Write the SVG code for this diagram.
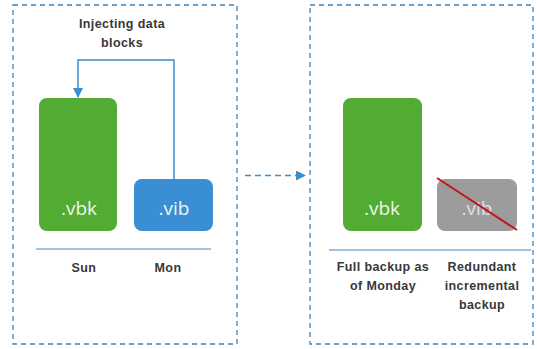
<svg xmlns="http://www.w3.org/2000/svg" width="537" height="349" viewBox="0 0 537 349">
<style>
.frame{fill:none;stroke:#3a84c0;stroke-width:1.3;stroke-dasharray:5,4}
.sep{stroke:#7fb0da;stroke-width:1.3}
.lbl{font-family:"Liberation Sans",Arial,sans-serif;font-size:12.5px;fill:#383838;text-anchor:middle;font-weight:bold;letter-spacing:0.4px}
.ext{font-family:"Open Sans","Liberation Sans",sans-serif;font-size:19px;fill:#eef6ea;text-anchor:middle}
.conn{fill:none;stroke:#3a8fd0;stroke-width:1.5}
</style>
<defs>
<marker id="ah" viewBox="0 0 10 10" refX="9" refY="5" markerWidth="10" markerHeight="10" markerUnits="userSpaceOnUse" orient="auto">
<path d="M0,0 L10,5 L0,10 z" fill="#3a8fd0"/>
</marker>
</defs>
<rect width="537" height="349" fill="#fff"/>
<g id="left-frame"><rect class="frame" x="13" y="5" width="224" height="339"/></g>
<g id="right-frame"><rect class="frame" x="310" y="5" width="223" height="339"/></g>
<g id="title"><text class="lbl" x="122" y="28">Injecting data</text><text class="lbl" x="122" y="47">blocks</text></g>
<g id="sun-vbk"><rect x="39" y="98" width="78" height="133" rx="8" fill="#52ab33"/><text class="ext" x="79" y="215">.vbk</text></g>
<g id="mon-vib"><rect x="134" y="179" width="79" height="52" rx="8" fill="#3a8fd4"/><text class="ext" x="174" y="215">.vib</text></g>
<g id="left-axis"><line class="sep" x1="36" y1="249" x2="211" y2="249"/><text class="lbl" x="84" y="272">Sun</text><text class="lbl" x="168" y="272">Mon</text></g>
<g id="full-vbk"><rect x="343" y="98" width="79" height="133" rx="8" fill="#52ab33"/><text class="ext" x="382" y="215">.vbk</text></g>
<g id="redundant-vib"><rect x="437" y="179" width="80" height="52" rx="8" fill="#9c9c9c"/><text class="ext" x="477" y="215" style="fill:#e0e0e0">.vib</text><line x1="437" y1="178" x2="517" y2="230" stroke="#c0161e" stroke-width="2"/></g>
<g id="right-axis"><line class="sep" x1="329" y1="250" x2="531" y2="250"/>
<text class="lbl" x="383" y="271">Full backup as</text><text class="lbl" x="383" y="290">of Monday</text>
<text class="lbl" x="482" y="271">Redundant</text><text class="lbl" x="482" y="290">incremental</text><text class="lbl" x="482" y="309">backup</text></g>
<g id="connectors">
<path class="conn" d="M174,179 V60 H78 V97" marker-end="url(#ah)"/>
<path class="conn" d="M245,175.5 H305" stroke-dasharray="6,4" marker-end="url(#ah)"/>
</g>
</svg>
